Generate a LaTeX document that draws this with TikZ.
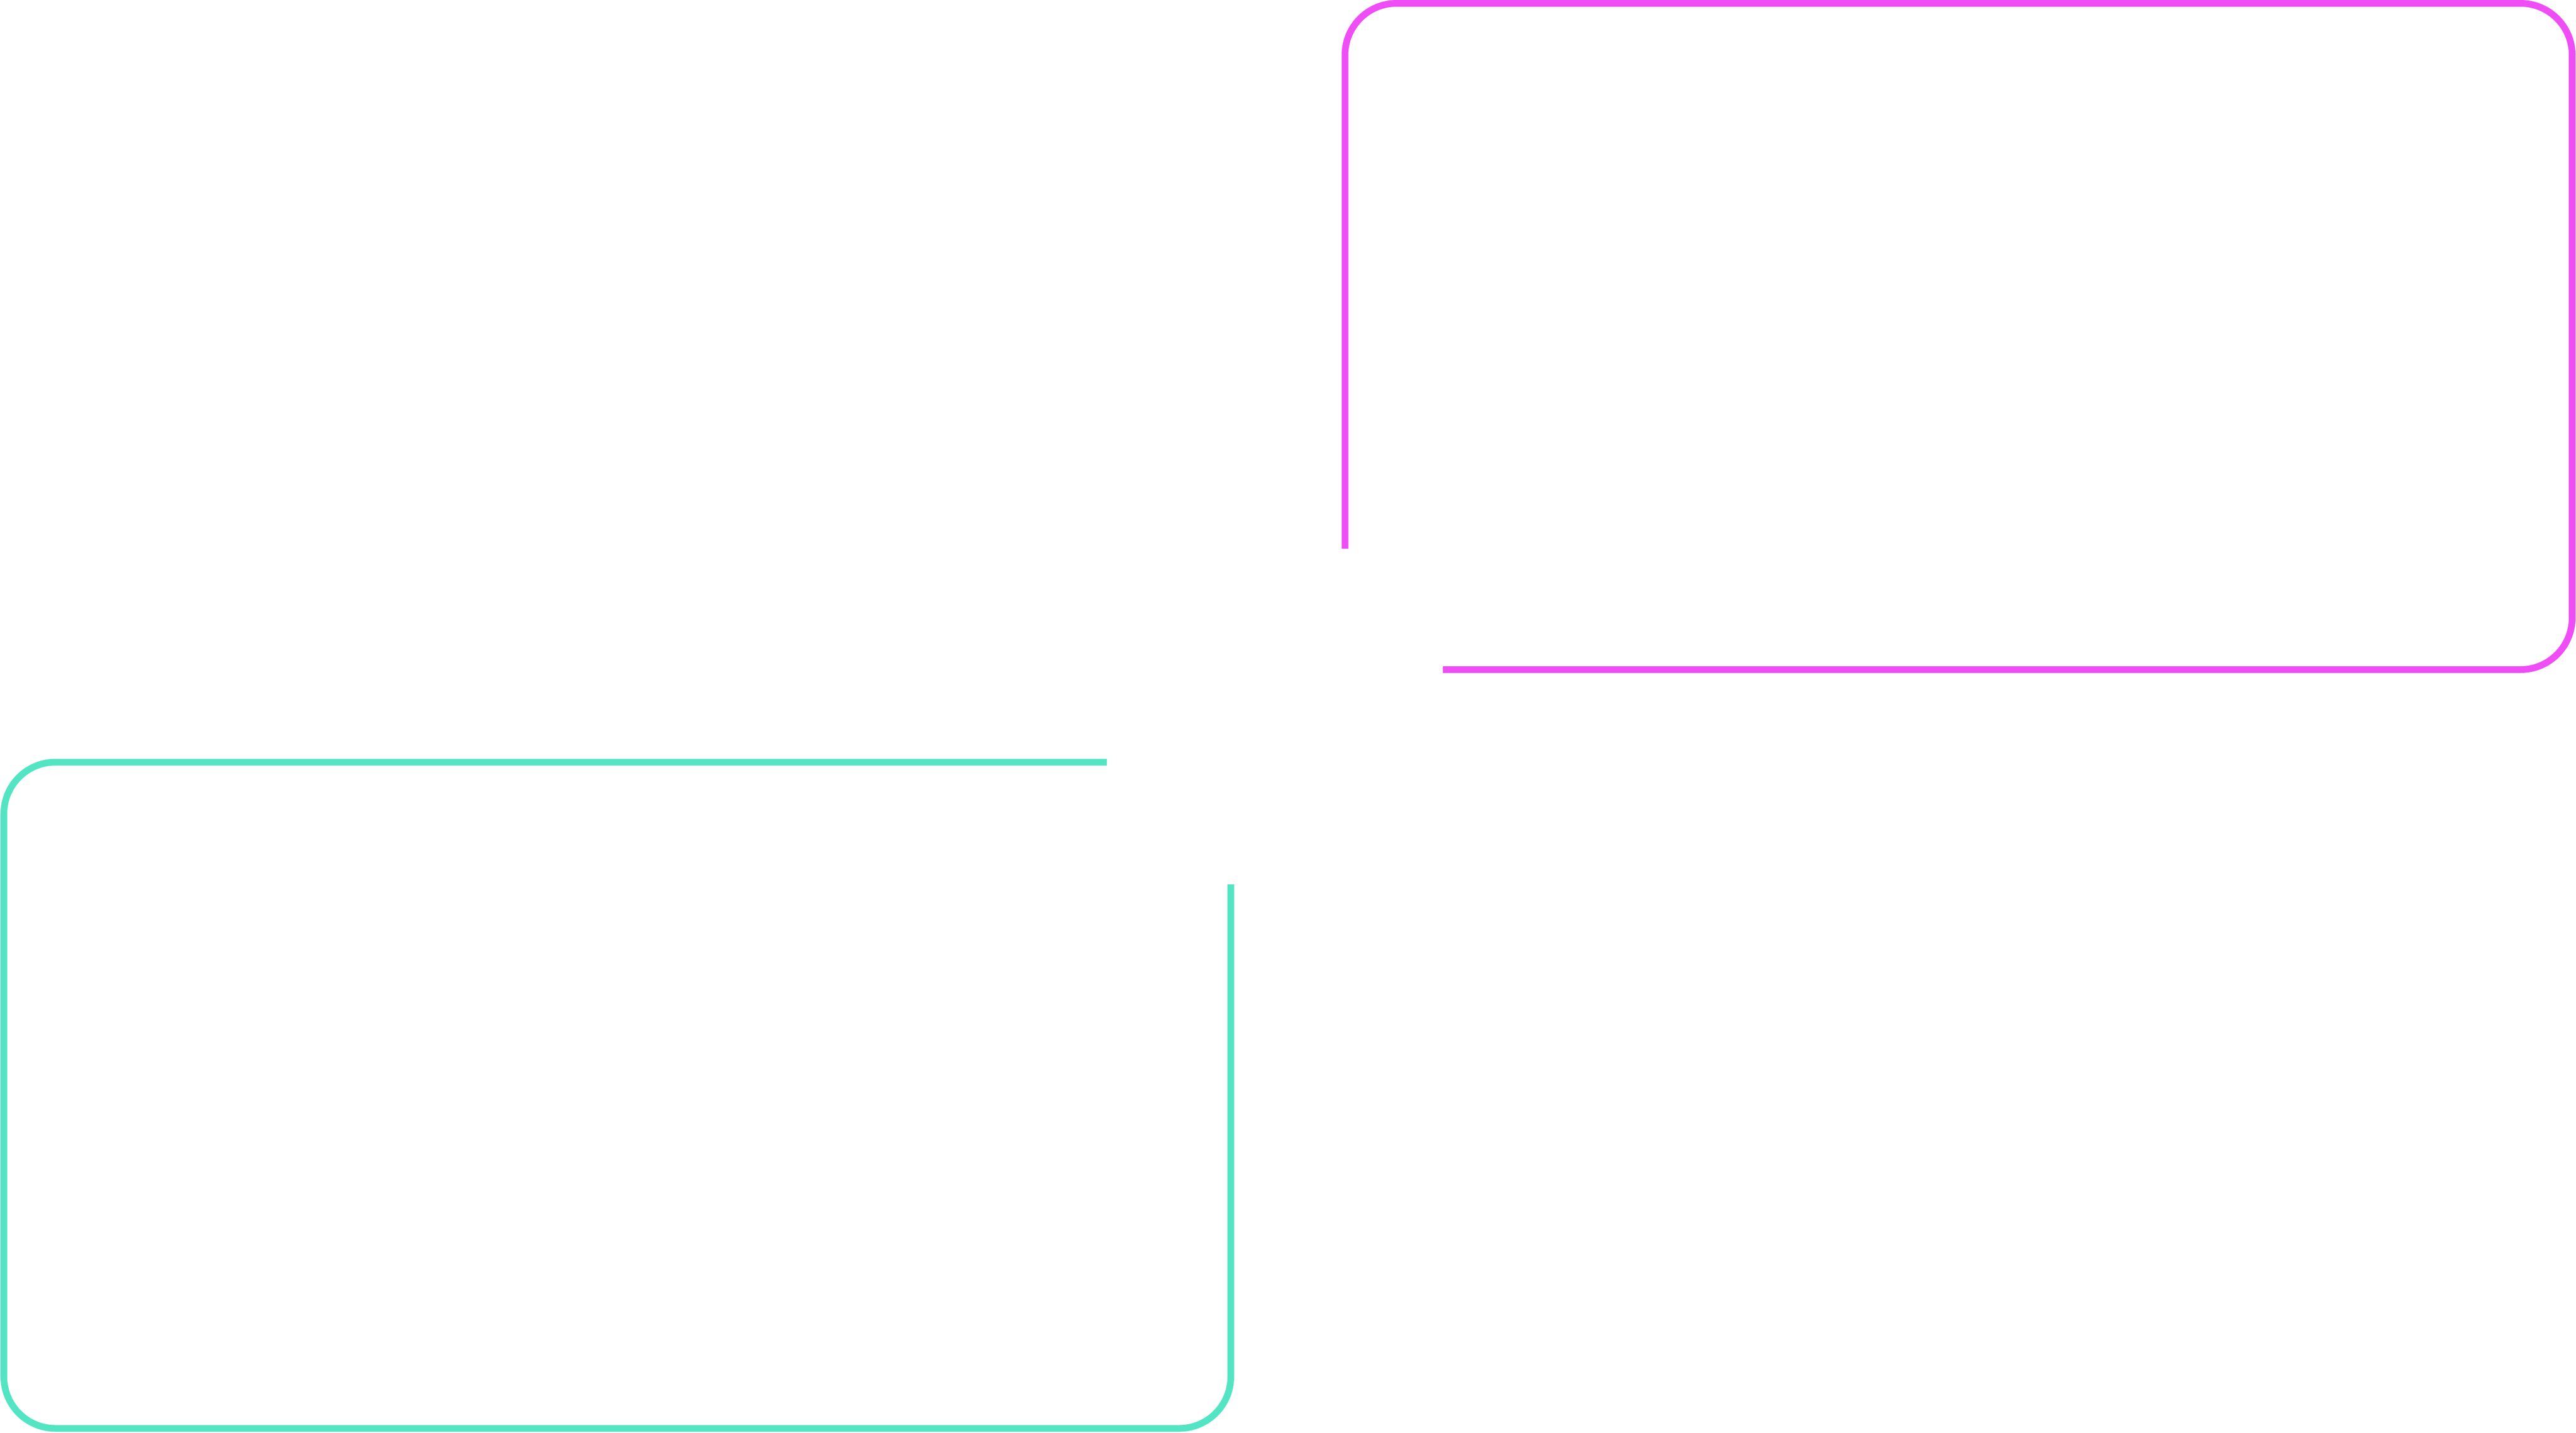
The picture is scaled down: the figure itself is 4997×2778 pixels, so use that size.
\documentclass[tikz,border=0pt]{standalone}
\usepackage{xcolor}
\usepackage{tikz}
\definecolor{framepink}{RGB}{239,77,245}
\definecolor{frameteal}{RGB}{83,229,195}

\begin{document}
\begin{tikzpicture}[x=0.01cm,y=-0.01cm,
  frame/.style={line width=0.13cm,rounded corners=1cm}]
  \useasboundingbox (0,0) rectangle (4997,2778);
  % upper frame
  \draw[frame,framepink] (2609,1064) -- (2609,6.5) -- (4989.5,6.5)
    -- (4989.5,1298.5) -- (2799,1298.5);
  % lower frame
  \draw[frame,frameteal] (2147,1478) -- (7.5,1478) -- (7.5,2770)
    -- (2387.5,2770) -- (2387.5,1715);
\end{tikzpicture}
\end{document}
